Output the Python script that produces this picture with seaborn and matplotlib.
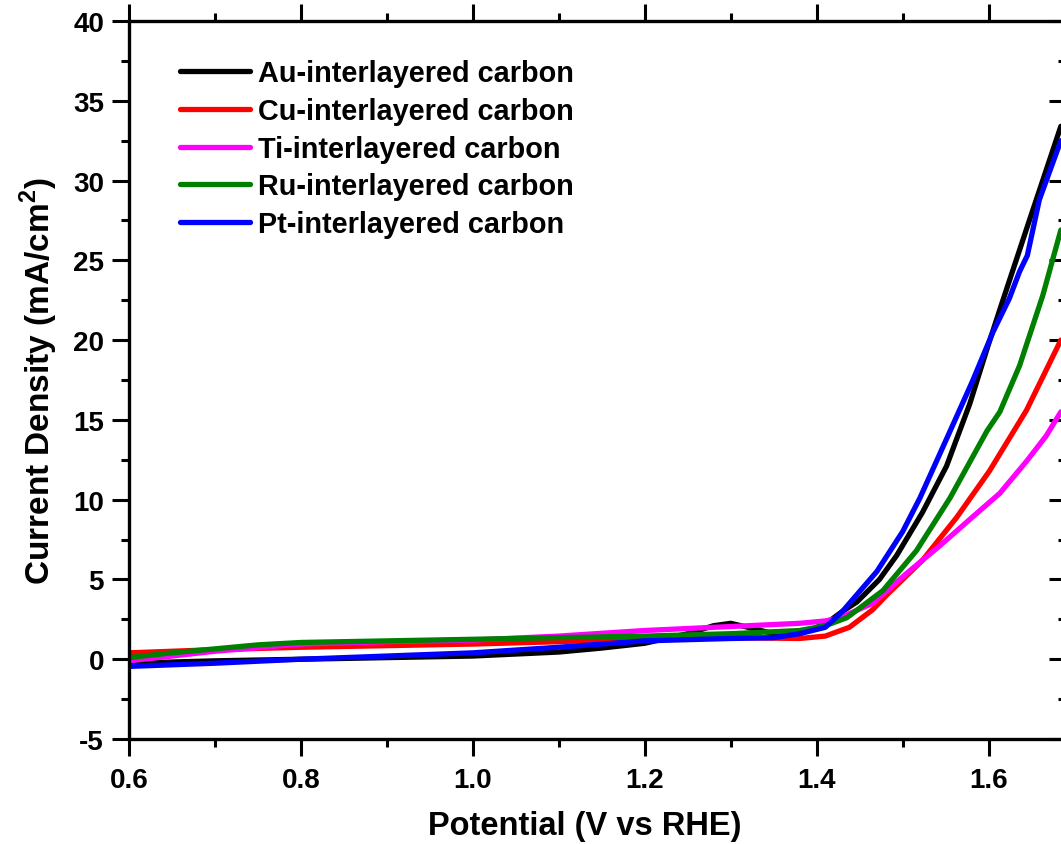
import matplotlib
matplotlib.use("Agg")
import matplotlib.pyplot as plt
import seaborn as sns
import pandas as pd
from matplotlib.ticker import MultipleLocator

# ---- data ----
au_x = [0.6, 0.7, 0.8, 0.9, 1.0, 1.1, 1.15, 1.2, 1.25, 1.28, 1.3, 1.32, 1.35, 1.38, 1.41, 1.43, 1.447, 1.473, 1.493, 1.523, 1.551, 1.578, 1.599, 1.616, 1.648, 1.684]
au_y = [-0.25, -0.1, 0.0, 0.1, 0.2, 0.45, 0.7, 1.0, 1.6, 2.1, 2.25, 2.0, 1.6, 1.6, 2.2, 3.0, 3.6, 5.0, 6.5, 9.2, 12.1, 16.0, 19.6, 22.4, 27.6, 33.4]

cu_x = [0.6, 0.7, 0.8, 0.9, 1.0, 1.1, 1.2, 1.3, 1.38, 1.41, 1.438, 1.465, 1.481, 1.523, 1.563, 1.601, 1.644, 1.684]
cu_y = [0.4, 0.6, 0.75, 0.85, 0.95, 1.1, 1.3, 1.35, 1.3, 1.45, 2.0, 3.1, 4.0, 6.2, 8.9, 11.8, 15.6, 20.0]

ti_x = [0.6, 0.7, 0.8, 0.9, 1.0, 1.1, 1.2, 1.3, 1.38, 1.41, 1.427, 1.465, 1.505, 1.543, 1.581, 1.613, 1.644, 1.667, 1.684]
ti_y = [-0.1, 0.5, 0.95, 1.1, 1.2, 1.45, 1.8, 2.05, 2.25, 2.4, 2.6, 3.5, 5.4, 7.1, 8.9, 10.4, 12.4, 14.0, 15.5]

ru_x = [0.6, 0.65, 0.7, 0.75, 0.8, 0.9, 1.0, 1.1, 1.2, 1.3, 1.38, 1.41, 1.435, 1.477, 1.516, 1.555, 1.598, 1.613, 1.636, 1.663, 1.684]
ru_y = [0.1, 0.4, 0.65, 0.9, 1.05, 1.15, 1.25, 1.35, 1.45, 1.6, 1.8, 2.1, 2.6, 4.3, 6.8, 10.1, 14.3, 15.5, 18.4, 22.8, 26.9]

pt_x = [0.6, 0.7, 0.8, 0.9, 1.0, 1.1, 1.2, 1.3, 1.35, 1.38, 1.41, 1.43, 1.47, 1.5, 1.52, 1.551, 1.581, 1.605, 1.624, 1.636, 1.645, 1.659, 1.684]
pt_y = [-0.45, -0.25, 0.0, 0.2, 0.4, 0.75, 1.15, 1.3, 1.35, 1.6, 2.0, 3.0, 5.5, 8.0, 10.1, 13.8, 17.4, 20.5, 22.6, 24.3, 25.3, 28.8, 32.5]

labels = ["Au-interlayered carbon", "Cu-interlayered carbon", "Ti-interlayered carbon",
          "Ru-interlayered carbon", "Pt-interlayered carbon"]
colors = ["#000000", "#ff0000", "#ff00ff", "#008000", "#0000ff"]
x_ticks = [0.6, 0.8, 1.0, 1.2, 1.4, 1.6]
x_tick_labels = ["0.6", "0.8", "1.0", "1.2", "1.4", "1.6"]

xs = [au_x, cu_x, ti_x, ru_x, pt_x]
ys = [au_y, cu_y, ti_y, ru_y, pt_y]

frames = []
for lab, x, y in zip(labels, xs, ys):
    frames.append(pd.DataFrame({"Potential": x, "Current": y, "Sample": lab}))
df = pd.concat(frames, ignore_index=True)

# ---- style ----
sns.set_theme(style="white")
plt.rcParams['font.family'] = ['Liberation Sans', 'DejaVu Sans']
plt.rcParams['font.weight'] = 'bold'
plt.rcParams['text.color'] = 'black'
plt.rcParams['axes.labelcolor'] = 'black'
plt.rcParams['axes.unicode_minus'] = False
plt.rcParams['mathtext.fontset'] = 'custom'
plt.rcParams['mathtext.bf'] = 'Liberation Sans:bold'
plt.rcParams['mathtext.rm'] = 'Liberation Sans:bold'

W, H = 1061, 845
fig = plt.figure(figsize=(W / 100, H / 100), dpi=100)
ax = fig.add_axes([129 / W, 1 - 740 / H, (1066 - 129) / W, (740 - 22) / H])

sns.lineplot(data=df, x="Potential", y="Current", hue="Sample",
             palette=dict(zip(labels, colors)), hue_order=labels,
             estimator=None, sort=False, linewidth=3.8, ax=ax, legend=True)

ax.set_xlim(0.6, 1.69)
ax.set_ylim(-5, 40)

ax.set_xticks(x_ticks)
ax.set_xticklabels(x_tick_labels)
ax.xaxis.set_minor_locator(MultipleLocator(0.1))
ax.yaxis.set_major_locator(MultipleLocator(5))
ax.yaxis.set_minor_locator(MultipleLocator(2.5))

for s in ax.spines.values():
    s.set_linewidth(2.4)
    s.set_color("black")

ax.tick_params(axis="both", which="major", length=12, width=2.2, color="black",
               labelsize=20, labelcolor="black")
ax.tick_params(axis="both", which="minor", length=6, width=2.2, color="black")
ax.tick_params(axis="x", which="both", direction="out", top=True, bottom=True, pad=8)
ax.tick_params(axis="y", which="both", direction="out", left=True, right=False, pad=6)
for lab in ax.get_xticklabels() + ax.get_yticklabels():
    lab.set_fontweight("bold")

# right-side inward ticks
ax2 = ax.secondary_yaxis("right")
ax2.yaxis.set_major_locator(MultipleLocator(5))
ax2.yaxis.set_minor_locator(MultipleLocator(2.5))
ax2.tick_params(axis="y", which="major", direction="in", length=12, width=2.2,
                color="black", labelright=False)
ax2.tick_params(axis="y", which="minor", direction="in", length=6, width=2.2, color="black")
ax2.spines["right"].set_linewidth(2.4)

ax.set_xlabel("Potential (V vs RHE)", fontsize=23.5, fontweight="bold", color="black")
ax.set_ylabel("Current Density (mA/cm$^{\\mathbf{2}}$)", fontsize=24, fontweight="bold", color="black")
ax.xaxis.set_label_coords((585 - 129) / (1066 - 129), -(811 - 740) / (740 - 22))
ax.yaxis.set_label_coords(-(129 - 60) / (1066 - 129), 0.5)

handles, labs = ax.get_legend_handles_labels()
leg = ax.legend(handles, labs, loc="upper left", bbox_to_anchor=(180 / W, 1 - 60 / H),
                bbox_transform=fig.transFigure, frameon=False,
                prop={"size": 20.8, "weight": "bold"}, handlelength=2.42,
                handletextpad=0.28, labelspacing=0.34, borderpad=0, borderaxespad=0)
for line in leg.get_lines():
    line.set_linewidth(3.8)
for t in leg.get_texts():
    t.set_color("black")

fig.savefig("out.png", dpi=100)
